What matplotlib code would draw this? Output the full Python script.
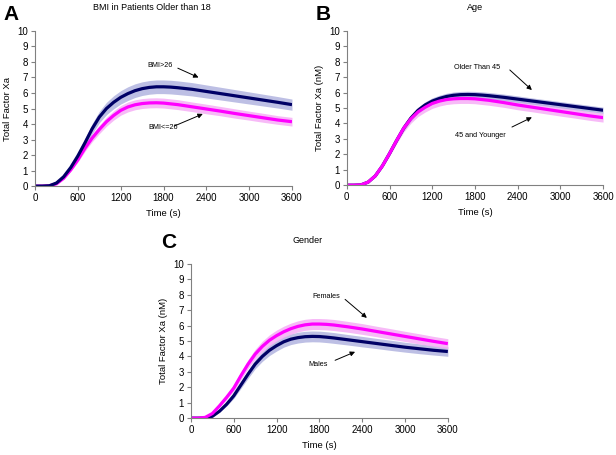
import numpy as np
import matplotlib.pyplot as plt

plt.rcParams['font.family'] = ['Liberation Sans', 'DejaVu Sans']

# time points (s)
t = [0, 100, 200, 300, 400, 500, 600, 700, 800, 900, 1000, 1100, 1200, 1300,
     1400, 1500, 1600, 1700, 1800, 1900, 2000, 2200, 2400, 2600, 2800, 3000,
     3200, 3400, 3600]

# Panel A - BMI
bmi_hi = [0, 0, 0.02, 0.2, 0.6, 1.2, 1.95, 2.8, 3.7, 4.45, 5.0, 5.4, 5.72, 5.96,
          6.15, 6.28, 6.36, 6.4, 6.4, 6.38, 6.34, 6.24, 6.1, 5.96, 5.82, 5.68,
          5.54, 5.4, 5.25]
bmi_lo = [0, 0, 0.02, 0.15, 0.5, 1.05, 1.7, 2.45, 3.1, 3.65, 4.15, 4.55, 4.88, 5.1,
          5.24, 5.32, 5.36, 5.37, 5.35, 5.3, 5.25, 5.11, 4.97, 4.83, 4.68, 4.54,
          4.4, 4.26, 4.15]
bmi_hi_sd = [0, 0, 0, 0.02, 0.06, 0.12, 0.2, 0.27, 0.33, 0.37, 0.4, 0.42, 0.43, 0.44,
             0.44, 0.44, 0.44, 0.44, 0.44, 0.44, 0.44, 0.43, 0.42, 0.41, 0.4, 0.39,
             0.38, 0.37, 0.36]
bmi_lo_sd = [0, 0, 0, 0.02, 0.05, 0.1, 0.15, 0.2, 0.24, 0.27, 0.29, 0.3, 0.31, 0.32,
             0.32, 0.32, 0.32, 0.32, 0.32, 0.32, 0.32, 0.31, 0.31, 0.3, 0.3, 0.29,
             0.29, 0.28, 0.28]

# Panel B - Age
age_old = [0, 0, 0.02, 0.2, 0.6, 1.25, 2.05, 2.9, 3.7, 4.35, 4.85, 5.2, 5.45, 5.62,
           5.75, 5.83, 5.87, 5.88, 5.87, 5.84, 5.8, 5.7, 5.58, 5.46, 5.34, 5.22,
           5.1, 4.98, 4.86]
age_young = [0, 0, 0.02, 0.2, 0.6, 1.25, 2.05, 2.9, 3.7, 4.3, 4.75, 5.05, 5.3, 5.45,
             5.55, 5.6, 5.62, 5.62, 5.6, 5.55, 5.5, 5.36, 5.2, 5.06, 4.92, 4.78,
             4.64, 4.5, 4.38]
age_old_sd = [0, 0, 0, 0.01, 0.03, 0.06, 0.1, 0.13, 0.16, 0.18, 0.19, 0.2, 0.21, 0.21,
              0.21, 0.21, 0.21, 0.21, 0.21, 0.21, 0.21, 0.21, 0.21, 0.2, 0.2, 0.2,
              0.2, 0.2, 0.2]
age_young_sd = [0, 0, 0, 0.02, 0.05, 0.1, 0.16, 0.21, 0.25, 0.28, 0.3, 0.31, 0.32, 0.32,
                0.32, 0.32, 0.32, 0.32, 0.32, 0.32, 0.32, 0.31, 0.31, 0.3, 0.3, 0.3,
                0.29, 0.29, 0.29]

# Panel C - Gender
fem = [0, 0, 0.05, 0.3, 0.8, 1.35, 1.95, 2.75, 3.5, 4.15, 4.65, 5.05, 5.35, 5.6,
       5.8, 5.95, 6.05, 6.1, 6.1, 6.08, 6.04, 5.92, 5.78, 5.62, 5.46, 5.3,
       5.14, 4.98, 4.83]
male = [0, 0, 0.01, 0.12, 0.45, 0.9, 1.45, 2.15, 2.85, 3.5, 4.0, 4.4, 4.7, 4.95,
        5.12, 5.22, 5.28, 5.3, 5.29, 5.25, 5.2, 5.08, 4.96, 4.84, 4.72, 4.6,
        4.5, 4.4, 4.32]
fem_sd = [0, 0, 0.01, 0.04, 0.08, 0.14, 0.2, 0.25, 0.29, 0.32, 0.34, 0.35, 0.36, 0.36,
          0.36, 0.36, 0.36, 0.36, 0.36, 0.36, 0.36, 0.35, 0.35, 0.34, 0.34, 0.33,
          0.33, 0.32, 0.32]
male_sd = [0, 0, 0, 0.02, 0.06, 0.11, 0.17, 0.22, 0.27, 0.3, 0.32, 0.34, 0.35, 0.35,
           0.35, 0.35, 0.35, 0.35, 0.35, 0.35, 0.35, 0.34, 0.34, 0.33, 0.33, 0.32,
           0.32, 0.31, 0.31]

NAVY = '#000066'
MAG = '#ff00ff'
NAVY_BAND = '#b2b4e0'
MAG_BAND = '#f6aef6'

fig = plt.figure(figsize=(6.16, 4.55), dpi=100)
axA = fig.add_axes([0.057, 0.591, 0.417, 0.341])
axB = fig.add_axes([0.563, 0.593, 0.416, 0.339])
axC = fig.add_axes([0.310, 0.081, 0.417, 0.339])


def draw(ax, series, ylabel, title, title_x, letter, letter_xy, notes, band_order=None):
    # error bands first, then the mean lines on top
    bands = series if band_order is None else [series[i] for i in band_order]
    for y, sd, col, band in bands:
        y = np.array(y)
        sd = np.array(sd)
        ax.fill_between(t, y - sd, y + sd, color=band, alpha=0.85, lw=0)
    for y, sd, col, band in series:
        ax.plot(t, y, color=col, lw=2.3, solid_capstyle='butt')
    ax.set_xlim(0, 3600)
    ax.set_ylim(0, 10)
    ax.set_xticks(range(0, 3601, 600))
    ax.set_yticks(range(0, 11))
    for s in ['top', 'right']:
        ax.spines[s].set_visible(False)
    for s in ['left', 'bottom']:
        ax.spines[s].set_color('#808080')
        ax.spines[s].set_linewidth(0.8)
    ax.tick_params(labelsize=7, length=3, width=0.8, color='#808080', pad=2)
    ax.set_xlabel('Time (s)', fontsize=6.8, labelpad=4)
    ax.set_ylabel(ylabel, fontsize=6.8, labelpad=4)
    ax.text(title_x, 1.15, title, transform=ax.transAxes, ha='center',
            va='center', fontsize=6.5)
    fig.text(letter_xy[0] / 616, 1 - letter_xy[1] / 455, letter,
             fontsize=15, fontweight='bold', ha='left', va='center')
    for txt, txy, start, head in notes:
        ax.text(txy[0], txy[1], txt, fontsize=5.2, ha='center', va='center')
        ax.annotate('', xy=head, xytext=start,
                    arrowprops=dict(arrowstyle='-|>', color='black', lw=0.7,
                                    mutation_scale=7, shrinkA=0, shrinkB=0))


draw(axA, [(bmi_lo, bmi_lo_sd, MAG, MAG_BAND), (bmi_hi, bmi_hi_sd, NAVY, NAVY_BAND)],
     'Total Factor Xa', 'BMI in Patients Older than 18', 0.455, 'A', (3, 14),
     [('BMI>26', (1750, 7.8), (2000, 7.6), (2290, 7.0)),
      ('BMI<=26', (1790, 3.8), (1950, 3.87), (2350, 4.65))])

draw(axB, [(age_old, age_old_sd, NAVY, NAVY_BAND), (age_young, age_young_sd, MAG, MAG_BAND)],
     'Total Factor Xa (nM)', 'Age', 0.5, 'B', (316, 14),
     [('Older Than 45', (1830, 7.6), (2290, 7.47), (2600, 6.17)),
      ('45 and Younger', (1870, 3.25), (2320, 3.77), (2600, 4.4))],
     band_order=[1, 0])

draw(axC, [(male, male_sd, NAVY, NAVY_BAND), (fem, fem_sd, MAG, MAG_BAND)],
     'Total Factor Xa (nM)', 'Gender', 0.455, 'C', (161, 243),
     [('Females', (1890, 7.9), (2160, 7.7), (2465, 6.5)),
      ('Males', (1780, 3.5), (2020, 3.75), (2300, 4.3))])

fig.savefig('out.png', dpi=100)
